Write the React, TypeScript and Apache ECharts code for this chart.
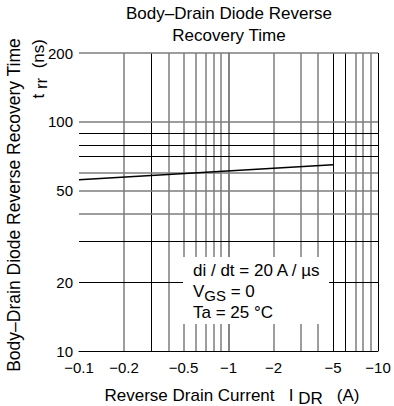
import { useEffect, useRef } from "react";
import * as echarts from "echarts";

// Data (reverse drain current in A as magnitude, trr in ns)
const currentA = [0.1, 5];
const trrNs = [56, 65];

// Tick labels
const xTickLabels = [0.1, 0.2, 0.5, 1, 2, 5, 10];
const yTickLabels = [10, 20, 50, 100, 200];

// Grid lines (log-decade style)
const xGrid = [0.2, 0.3, 0.4, 0.5, 0.6, 0.7, 0.8, 0.9, 1, 2, 3, 4, 5, 6, 7, 8, 9, 10];
const yGrid = [20, 30, 40, 50, 60, 70, 80, 90, 100, 200];
const xDarkGrid = [0.3, 5, 6, 10];
const yDarkGrid = [20, 30, 70, 80, 90];

const FONT = "'Liberation Sans', Arial, Helvetica, sans-serif";

export default function App() {
  const ref = useRef<HTMLDivElement>(null);
  useEffect(() => {
    const chart = echarts.init(ref.current!, null, { renderer: "svg" });
    const lg = Math.log10;
    const fmt = (v: number) => String(Number(Math.pow(10, v).toPrecision(3)));
    const gray = "#7d7d7d";
    const lineFor = (dark: boolean) => ({
      color: dark ? "#000" : gray,
      width: dark ? 1 : 1.5,
      type: "solid" as const,
    });
    const markData: any[] = [
      ...xGrid.map((v) => ({ xAxis: lg(v), lineStyle: lineFor(xDarkGrid.includes(v)) })),
      ...yGrid.map((v) => ({ yAxis: lg(v), lineStyle: lineFor(yDarkGrid.includes(v)) })),
    ];
    const curve = currentA.map((x, i) => [lg(x), lg(trrNs[i])]);

    chart.setOption({
      animation: false,
      textStyle: { fontFamily: FONT },
      title: {
        text: "Body–Drain Diode Reverse\nRecovery Time",
        left: 229,
        top: 2,
        padding: 0,
        textAlign: "center",
        textStyle: { fontFamily: FONT, fontSize: 17, fontWeight: "normal", color: "#000", lineHeight: 22 },
      },
      grid: { left: 79, right: 16, top: 53, bottom: 55 },
      xAxis: {
        type: "value",
        min: lg(0.1),
        max: lg(10),
        axisLine: { show: true, lineStyle: { color: "#000", width: 1 } },
        axisTick: { show: false },
        splitLine: { show: false },
        axisLabel: {
          customValues: xTickLabels.map(lg),
          formatter: (v: number) => "−" + fmt(v),
          color: "#000",
          fontSize: 15,
          fontFamily: FONT,
          margin: 9,
        },
      },
      yAxis: {
        type: "value",
        min: lg(10),
        max: lg(200),
        axisLine: { show: true, lineStyle: { color: gray, width: 1.5 } },
        axisTick: { show: false },
        splitLine: { show: false },
        axisLabel: {
          customValues: yTickLabels.map(lg),
          formatter: (v: number) => fmt(v),
          color: "#000",
          fontSize: 15,
          fontFamily: FONT,
          margin: 6,
        },
      },
      series: [
        {
          type: "line",
          data: curve,
          z: 1,
          showSymbol: false,
          lineStyle: { width: 0, opacity: 0 },
          silent: true,
          markLine: {
            silent: true,
            symbol: ["none", "none"],
            label: { show: false },
            data: markData,
          },
        },
        {
          type: "line",
          data: curve,
          z: 5,
          showSymbol: false,
          lineStyle: { color: "#000", width: 1.5 },
          silent: true,
        },
      ],
      graphic: [
        {
          type: "rect",
          z: 50,
          shape: { x: 183, y: 257, width: 146, height: 67 },
          style: { fill: "#fff" },
        },
        {
          type: "text",
          z: 51,
          x: 193,
          y: 260,
          style: {
            text: "di / dt = 20 A / µs\nV{s|GS} = 0\nTa = 25 °C",
            font: `17px ${FONT}`,
            fill: "#000",
            lineHeight: 21,
            verticalAlign: "top",
            rich: { s: { fontSize: 15, fontFamily: FONT, padding: [7, 0, 0, 0], lineHeight: 21 } },
          },
        },
        {
          type: "text",
          z: 51,
          x: 14,
          y: 205,
          rotation: Math.PI / 2,
          style: {
            text: "Body–Drain Diode Reverse Recovery Time",
            font: `17.5px ${FONT}`,
            fill: "#000",
            align: "center",
            verticalAlign: "middle",
          },
        },
        {
          type: "text",
          z: 51,
          x: 38,
          y: 39,
          rotation: Math.PI / 2,
          style: {
            text: "t {s|rr}  (ns)",
            font: `17px ${FONT}`,
            fill: "#000",
            align: "right",
            verticalAlign: "middle",
            rich: { s: { fontSize: 17, fontFamily: FONT, padding: [6, 0, 0, 0] } },
          },
        },
        {
          type: "text",
          z: 51,
          x: 232,
          y: 395,
          style: {
            text: "Reverse Drain Current   I {s|DR}   (A)",
            font: `17px ${FONT}`,
            fill: "#000",
            align: "center",
            verticalAlign: "middle",
            rich: { s: { fontSize: 17, fontFamily: FONT, padding: [6, 0, 0, 0] } },
          },
        },
      ],
    });
    return () => chart.dispose();
  }, []);
  return <div ref={ref} style={{ width: 394, height: 406, position: "absolute", left: 0, top: 0 }} />;
}
